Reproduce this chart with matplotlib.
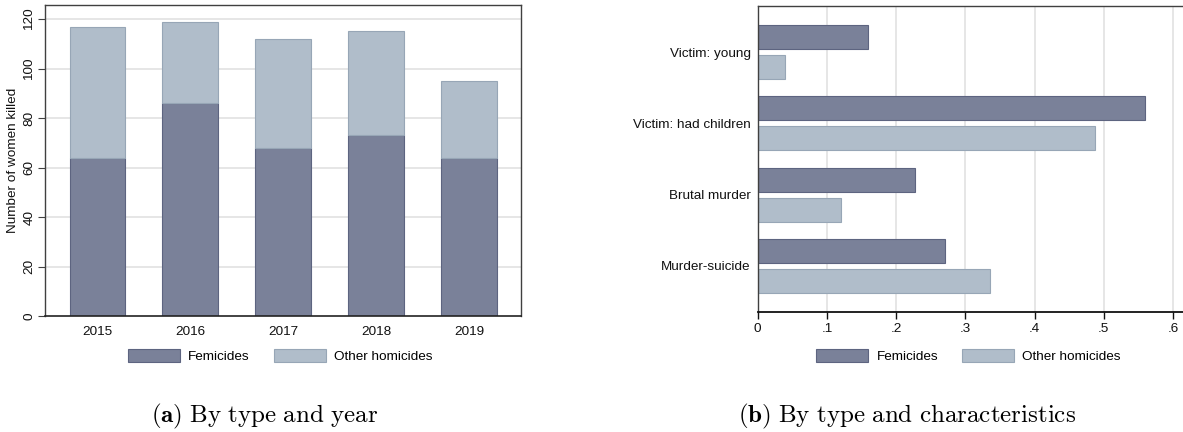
import matplotlib
matplotlib.use("Agg")
import matplotlib.pyplot as plt
from matplotlib.patches import Patch
import numpy as np

# --- data -------------------------------------------------------------
years = [2015, 2016, 2017, 2018, 2019]
femicides_by_year = [64, 86, 68, 73, 64]
other_by_year = [53, 33, 44, 42, 31]          # stacked on top of femicides

characteristics = ["Victim: young", "Victim: had children", "Brutal murder", "Murder-suicide"]
femicides_share = [0.16, 0.56, 0.228, 0.27]
other_share = [0.04, 0.488, 0.12, 0.335]

y_ticks_a = [0, 20, 40, 60, 80, 100, 120]
x_ticks_b = [0, 0.1, 0.2, 0.3, 0.4, 0.5, 0.6]
x_ticklabels_b = ["0", ".1", ".2", ".3", ".4", ".5", ".6"]

series_names = ["Femicides", "Other homicides"]

# --- style ------------------------------------------------------------
FEM_FILL, FEM_EDGE = "#7a8199", "#5d6480"
OTH_FILL, OTH_EDGE = "#b0bdca", "#97a6b6"
GRID = "#e6e6e6"
FRAME = "#404040"

plt.rcParams["font.family"] = ["Liberation Sans", "DejaVu Sans"]
plt.rcParams["font.size"] = 9.7
plt.rcParams["mathtext.fontset"] = "cm"

W, H = 1183, 432
fig = plt.figure(figsize=(W / 100, H / 100), dpi=100)


def frac_box(x0, x1, ytop, ybot):
    return [x0 / W, 1 - ybot / H, (x1 - x0) / W, (ybot - ytop) / H]


# --- (a) stacked bars by year -----------------------------------------
ax1 = fig.add_axes(frac_box(45, 521, 5, 316))
ax1.bar(years, femicides_by_year, width=0.6, color=FEM_FILL, edgecolor=FEM_EDGE,
        linewidth=0.8, zorder=2)
ax1.bar(years, other_by_year, bottom=femicides_by_year, width=0.6, color=OTH_FILL,
        edgecolor=OTH_EDGE, linewidth=0.8, zorder=2)
ax1.set_xlim(2014.435, 2019.56)
ax1.set_ylim(0, 125.7)
ax1.set_yticks(y_ticks_a)
for v in y_ticks_a[1:]:
    ax1.axhline(v, color=GRID, linewidth=1.4, zorder=1)
ax1.set_xticks(years)
ax1.tick_params(axis="x", length=0, pad=7, labelsize=9.7, colors="#111111")
ax1.tick_params(axis="y", length=5, width=0.8, color=FRAME, pad=2, labelsize=9.7,
                labelrotation=90, labelcolor="#111111")
for lab in ax1.get_yticklabels():
    lab.set_va("center")
ax1.set_ylabel("Number of women killed", fontsize=9.7, labelpad=3, color="#111111")
for side in ["left", "top", "right"]:
    ax1.spines[side].set_color(FRAME)
    ax1.spines[side].set_linewidth(1.0)
ax1.spines["bottom"].set_color("#222222")
ax1.spines["bottom"].set_linewidth(1.2)

# --- (b) grouped horizontal bars by characteristic --------------------
x_right = 757.7 + 0.62 * 692
ax2 = fig.add_axes(frac_box(757.7, x_right, 6, 312))
pos = np.arange(len(characteristics))
ax2.barh(pos - 0.21, femicides_share, height=0.34, color=FEM_FILL, edgecolor=FEM_EDGE,
         linewidth=0.8, zorder=2)
ax2.barh(pos + 0.21, other_share, height=0.34, color=OTH_FILL, edgecolor=OTH_EDGE,
         linewidth=0.8, zorder=2)
ax2.set_ylim(3.645, -0.645)
ax2.set_xlim(0, 0.62)
ax2.set_yticks(pos)
ax2.set_yticklabels(characteristics)
ax2.set_xticks(x_ticks_b)
ax2.set_xticklabels(x_ticklabels_b)
for v in x_ticks_b[1:]:
    ax2.axvline(v, color=GRID, linewidth=1.4, zorder=1)
ax2.tick_params(axis="y", length=0, pad=5, labelsize=9.7, labelcolor="#111111")
ax2.tick_params(axis="x", length=5, width=1.0, color="#111111", pad=3, labelsize=9.7,
                labelcolor="#111111")
ax2.spines["right"].set_visible(False)
for side in ["left", "top"]:
    ax2.spines[side].set_color(FRAME)
    ax2.spines[side].set_linewidth(1.0)
ax2.spines["bottom"].set_color("#111111")
ax2.spines["bottom"].set_linewidth(1.3)

# --- legends ----------------------------------------------------------
def legend_handles():
    return [Patch(facecolor=FEM_FILL, edgecolor=FEM_EDGE, linewidth=0.8, label=series_names[0]),
            Patch(facecolor=OTH_FILL, edgecolor=OTH_EDGE, linewidth=0.8, label=series_names[1])]


for cx in (280, 968.5):
    fig.legend(handles=legend_handles(), loc="center", bbox_to_anchor=(cx / W, 1 - 356 / H),
               ncol=2, frameon=False, fontsize=9.7, handlelength=3.86, handleheight=1.04,
               handletextpad=0.6, columnspacing=1.78, borderpad=0.2)

# --- sub-captions -----------------------------------------------------
fig.text(264.5 / W, 1 - 416 / H, r"$\mathbf{(a)}$ $\mathrm{By\ type\ and\ year}$",
         ha="center", va="center", fontsize=18)
fig.text(907 / W, 1 - 416 / H, r"$\mathbf{(b)}$ $\mathrm{By\ type\ and\ characteristics}$",
         ha="center", va="center", fontsize=18)

fig.savefig("out.png", dpi=100, facecolor="white")
